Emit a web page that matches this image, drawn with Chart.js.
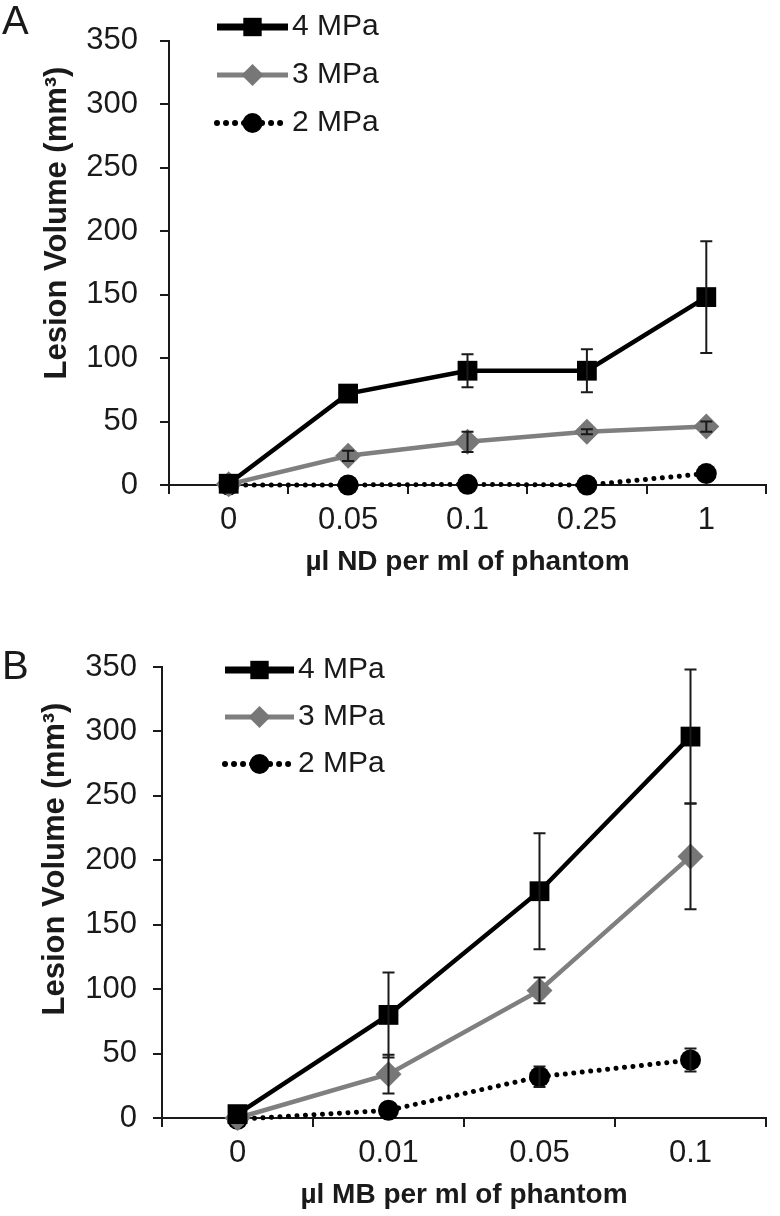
<!DOCTYPE html>
<html>
<head>
<meta charset="utf-8">
<script src="https://cdn.jsdelivr.net/npm/chart.js@4.4.0/dist/chart.umd.min.js"></script>
<style>
    body { margin: 0; background: #fff; width: 780px; height: 1216px; position: relative; overflow: hidden; }
    canvas { position: absolute; left: 0; }
    .tag { position: absolute; left: 2px; font: 40px "Liberation Sans", Arial, sans-serif; color: #1a1a1a; line-height: 46px; }
</style>
</head>
<body>
<canvas id="chartA" width="780" height="580" style="top:0"></canvas>
<canvas id="chartB" width="780" height="626" style="top:590px"></canvas>
<div class="tag" style="top:-3px">A</div>
<div class="tag" style="top:642px">B</div>
<script>
// panel A: nanodroplets
const ndDoses = ["0", "0.05", "0.1", "0.25", "1"];
const nd4 = [1, 72, 90, 90, 148];
const nd4Err = [0, 0, 13, 17, 44];
const nd3 = [0.5, 23, 34, 42, 46];
const nd3Err = [0, 4, 8, 2, 4];
const nd2 = [0, 0, 0.5, 0, 9];
const nd2Err = [0, 0, 0, 0, 0];

// panel B: microbubbles
const mbDoses = ["0", "0.01", "0.05", "0.1"];
const mb4 = [3, 80, 176, 296];
const mb4Err = [0, 33, 45, 52];
const mb3 = [0, 34, 99, 203];
const mb3Err = [0, 15, 10, 41];
const mb2 = [-1, 6, 32, 45];
const mb2Err = [0, 0, 8, 9];

const yMin = 0, yMax = 350, yStep = 50;
const seriesLabels = ["4 MPa", "3 MPa", "2 MPa"];
const yTitle = "Lesion Volume (mm\u00B3)";

const INK = "#1a1a1a";
const FONT = "'Liberation Sans', Arial, sans-serif";

const errorBars = {
    id: "errorBars",
    afterDatasetsDraw(chart) {
        const { ctx, scales: { x, y } } = chart;
        ctx.save();
        ctx.strokeStyle = INK;
        ctx.lineWidth = 2;
        chart.data.datasets.forEach(ds => {
            ds.data.forEach((v, j) => {
                const e = ds.errors[j];
                if (!e) return;
                const px = x.getPixelForValue(j);
                const top = y.getPixelForValue(v + e);
                const bot = y.getPixelForValue(v - e);
                ctx.beginPath();
                ctx.moveTo(px, top); ctx.lineTo(px, bot);
                ctx.moveTo(px - 6, top); ctx.lineTo(px + 6, top);
                ctx.moveTo(px - 6, bot); ctx.lineTo(px + 6, bot);
                ctx.stroke();
            });
        });
        ctx.restore();
    }
};

// legend sits inside the plot, top left, plus the offset y title
const panelText = {
    id: "panelText",
    afterDraw(chart, args, opts) {
        const ctx = chart.ctx;
        chart.data.datasets.forEach((ds, i) => {
            const y = opts.y0 + i * opts.dy;
            ctx.save();
            ctx.strokeStyle = ds.borderColor;
            ctx.lineWidth = ds.legendWidth;
            ctx.lineCap = ds.borderCapStyle || "butt";
            ctx.setLineDash(ds.legendDash || []);
            ctx.beginPath();
            ctx.moveTo(opts.x0, y);
            ctx.lineTo(opts.x1, y);
            ctx.stroke();
            ctx.setLineDash([]);
            ctx.fillStyle = ds.pointBackgroundColor;
            Chart.helpers.drawPoint(ctx, { pointStyle: ds.pointStyle, radius: ds.legendRadius, borderWidth: 0, rotation: 0 }, (opts.x0 + opts.x1) / 2, y);
            ctx.fillStyle = INK;
            ctx.font = "30px " + FONT;
            ctx.textBaseline = "middle";
            ctx.textAlign = "left";
            ctx.fillText(ds.label, opts.x1 + 4, y);
            ctx.restore();
        });
        ctx.save();
        ctx.translate(opts.titleX, opts.titleY);
        ctx.rotate(-Math.PI / 2);
        ctx.fillStyle = INK;
        ctx.font = "bold 31px " + FONT;
        ctx.textAlign = "center";
        ctx.textBaseline = "middle";
        ctx.fillText(yTitle, 0, 0);
        ctx.restore();
    }
};

function makeDatasets(v4, e4, v3, e3, v2, e2) {
    return [
        {
            label: seriesLabels[0], data: v4, errors: e4,
            borderColor: "#000", borderWidth: 4.5,
            pointStyle: "rect", pointRadius: 14, pointBackgroundColor: "#000", pointBorderWidth: 0,
            legendWidth: 7, legendRadius: 13
        },
        {
            label: seriesLabels[1], data: v3, errors: e3,
            borderColor: "#7f7f7f", borderWidth: 4.5,
            pointStyle: "rectRot", pointRadius: 13, pointBackgroundColor: "#777", pointBorderWidth: 0,
            legendWidth: 5, legendRadius: 11
        },
        {
            label: seriesLabels[2], data: v2, errors: e2,
            borderColor: "#000", borderWidth: 5, borderDash: [0.01, 8.5], borderCapStyle: "round",
            pointStyle: "circle", pointRadius: 10.5, pointBackgroundColor: "#000", pointBorderWidth: 0,
            legendWidth: 6, legendDash: [0.01, 9], legendRadius: 10
        }
    ];
}

function makeChart(id, labels, datasets, cfg) {
    return new Chart(document.getElementById(id), {
        type: "line",
        data: { labels: labels, datasets: datasets },
        plugins: [errorBars, panelText],
        options: {
            responsive: false,
            animation: false,
            events: [],
            clip: false,
            layout: { padding: { left: 0, top: cfg.top, right: 5, bottom: cfg.bottom } },
            plugins: {
                legend: { display: false },
                tooltip: { enabled: false },
                panelText: cfg.legend
            },
            scales: {
                x: {
                    offset: true,
                    afterFit: s => { s.height = 94; },
                    grid: { offset: true, drawOnChartArea: false, tickLength: 9, color: INK, lineWidth: 2 },
                    border: { color: INK, width: 2 },
                    ticks: { color: INK, padding: 8, font: { family: FONT, size: 31 } },
                    title: {
                        display: true, text: cfg.xTitle, color: INK, padding: 0,
                        font: { family: FONT, size: 28, weight: "bold" }
                    }
                },
                y: {
                    min: yMin, max: yMax,
                    afterFit: s => { s.width = cfg.axisX; },
                    grid: { drawOnChartArea: false, tickLength: 9, color: INK, lineWidth: 2 },
                    border: { color: INK, width: 2 },
                    ticks: { stepSize: yStep, color: INK, padding: cfg.yPad, font: { family: FONT, size: 31 } }
                }
            }
        }
    });
}

makeChart("chartA", ndDoses, makeDatasets(nd4, nd4Err, nd3, nd3Err, nd2, nd2Err), {
    top: 24, bottom: 1, axisX: 169, yPad: 22,
    xTitle: "\u00B5l ND per ml of phantom",
    legend: { x0: 217, x1: 288, y0: 27, dy: 48, titleX: 57, titleY: 223 }
});

makeChart("chartB", mbDoses, makeDatasets(mb4, mb4Err, mb3, mb3Err, mb2, mb2Err), {
    top: 77, bottom: 4, axisX: 162, yPad: 16,
    xTitle: "\u00B5l MB per ml of phantom",
    legend: { x0: 225, x1: 294, y0: 80, dy: 47, titleX: 55, titleY: 269 }
});
</script>
</body>
</html>
